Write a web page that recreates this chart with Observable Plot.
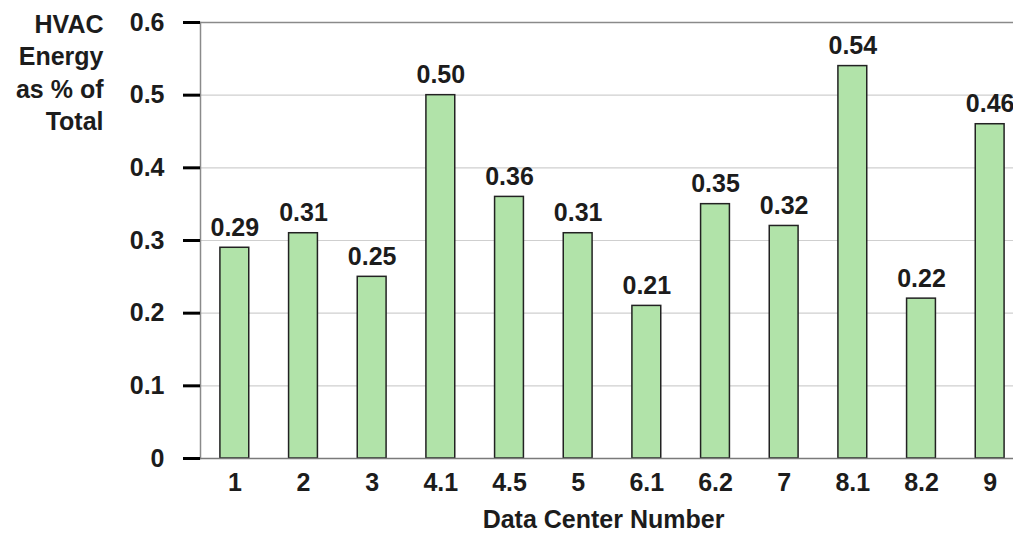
<!DOCTYPE html>
<html>
<head>
<meta charset="utf-8">
<script src="https://cdn.jsdelivr.net/npm/d3@7"></script>
<script src="https://cdn.jsdelivr.net/npm/@observablehq/plot@0.6"></script>
<style>
  html, body { margin: 0; padding: 0; background: #fff; overflow: hidden; }
  #chart svg { overflow: hidden; }
</style>
</head>
<body>
<div id="chart"></div>
<script>
const categories = ["1", "2", "3", "4.1", "4.5", "5", "6.1", "6.2", "7", "8.1", "8.2", "9"];
const values = [0.29, 0.31, 0.25, 0.50, 0.36, 0.31, 0.21, 0.35, 0.32, 0.54, 0.22, 0.46];
const yTicks = [0, 0.1, 0.2, 0.3, 0.4, 0.5, 0.6];
const yTitle = "HVAC\nEnergy\nas % of\nTotal";
const xTitle = "Data Center Number";

const data = categories.map((c, i) => ({category: c, value: values[i]}));
const font = "'Liberation Sans', Arial, Helvetica, sans-serif";
const fs = 25;
const ink = "#1c1c1c";

const chart = Plot.plot({
  width: 1013,
  height: 534,
  marginLeft: 200,
  marginRight: -11,
  marginTop: 22,
  marginBottom: 76,
  style: {fontFamily: font, background: "#fff", overflow: "hidden"},
  x: {domain: categories, paddingInner: 0.58, paddingOuter: 0.29, round: false, axis: null},
  y: {domain: [0, 0.6], axis: null},
  marks: [
    Plot.gridY(yTicks, {stroke: "#cfcfcf", strokeOpacity: 1, strokeWidth: 1.2}),
    Plot.ruleY([0.6], {stroke: "#8a8a8a", strokeWidth: 1.5}),
    Plot.frame({anchor: "left", stroke: "#8a8a8a", strokeWidth: 1.5}),
    Plot.barY(data, {x: "category", y: "value", fill: "#b1e3a9", stroke: "#222", strokeWidth: 1.5}),
    Plot.ruleY([0], {stroke: "#7a7a7a", strokeWidth: 1.5}),
    Plot.axisY({ticks: yTicks, tickSize: 17, tickPadding: 19, strokeWidth: 3, stroke: "#000",
      tickFormat: d => d === 0 ? "0" : d.toFixed(1), label: null,
      fontSize: fs, fontWeight: "bold", fill: ink}),
    Plot.axisX({tickSize: 0, tickPadding: 15, label: null,
      fontSize: fs, fontWeight: "bold", fill: ink}),
    Plot.text(data, {x: "category", y: "value", text: d => d.value.toFixed(2), dy: -20,
      fontSize: fs, fontWeight: "bold", fill: ink}),
    Plot.text([yTitle], {frameAnchor: "top-left", dx: -97, dy: -13, textAnchor: "end", lineAnchor: "top",
      lineHeight: 1.3, fontSize: fs, fontWeight: "bold", fill: ink}),
    Plot.text([xTitle], {frameAnchor: "bottom", dx: -9, dy: 61, lineAnchor: "middle",
      fontSize: fs, fontWeight: "bold", fill: ink})
  ]
});
document.getElementById("chart").appendChild(chart);
</script>
</body>
</html>
